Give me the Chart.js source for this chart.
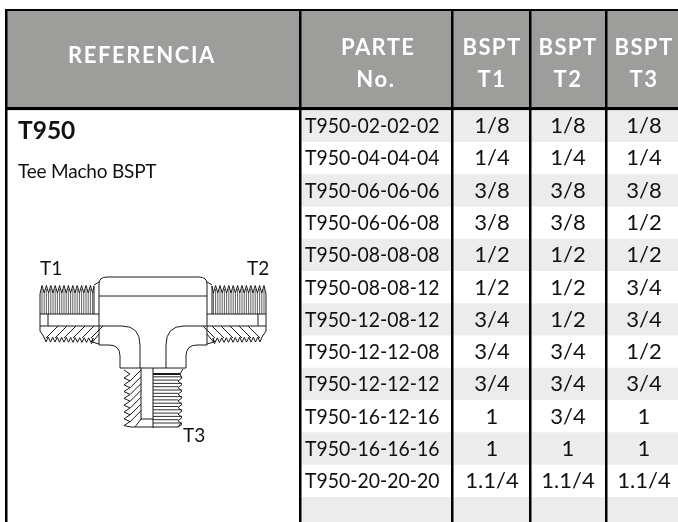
<!DOCTYPE html>
<html>
<head>
<meta charset="utf-8">
<title>T950</title>
<script src="https://cdn.jsdelivr.net/npm/chart.js@4/dist/chart.umd.min.js"></script>
<style>
  body { margin: 0; background: #fff; }
  canvas { display: block; }
</style>
</head>
<body>
<canvas id="myChart" width="678" height="522"></canvas>
<script>
// Table data
const partNumbers = [
    "T950-02-02-02", "T950-04-04-04", "T950-06-06-06", "T950-06-06-08",
    "T950-08-08-08", "T950-08-08-12", "T950-12-08-12", "T950-12-12-08",
    "T950-12-12-12", "T950-16-12-16", "T950-16-16-16", "T950-20-20-20", ""
];
const sizesT1 = ["1/8", "1/4", "3/8", "3/8", "1/2", "1/2", "3/4", "3/4", "3/4", "1", "1", "1.1/4", ""];
const sizesT2 = ["1/8", "1/4", "3/8", "3/8", "1/2", "1/2", "1/2", "3/4", "3/4", "3/4", "1", "1.1/4", ""];
const sizesT3 = ["1/8", "1/4", "3/8", "1/2", "1/2", "3/4", "3/4", "1/2", "3/4", "1", "1", "1.1/4", ""];
const refHeader = "REFERENCIA";
const partHeader = ["PARTE", "No."];
const sizeHeaders = [["BSPT", "T1"], ["BSPT", "T2"], ["BSPT", "T3"]];
const productCode = "T950";
const productName = "Tee Macho BSPT";
const portLabels = ["T1", "T2", "T3"];

// Layout: the x scale runs in page pixels, the y scale in table rows
const columnEdges = [6, 300, 452, 530, 606];
const sizeCenters = [492, 568, 644];
const rowPx = 32.27;
const firstRowTop = 110;
const tableTop = 10;
const headerRows = (firstRowTop - tableTop) / rowPx;
const FONT = "Lato, sans-serif";
const INK = "#1a1a1a";

const rowIndex = partNumbers.map((p, i) => i + 0.5);

// Line drawing of the fitting
function strokePath(ctx, pts) {
    ctx.beginPath();
    pts.forEach((p, i) => (i ? ctx.lineTo(p[0], p[1]) : ctx.moveTo(p[0], p[1])));
    ctx.stroke();
}

function drawArm(ctx) {
    // threads on top
    const zig = [[40, 294]];
    for (let i = 0; i < 12; i++) {
        zig.push([42 + i * 4.4, 285.5]);
        zig.push([44.2 + i * 4.4, 293]);
    }
    zig.push([94, 286]);
    strokePath(ctx, zig);
    ctx.save();
    ctx.lineWidth = 0.7;
    for (let i = 0; i < 12; i++) {
        strokePath(ctx, [[44.2 + i * 4.4, 293], [44.2 + i * 4.4, 314]]);
        strokePath(ctx, [[42 + i * 4.4, 289], [42 + i * 4.4, 314]]);
    }
    ctx.restore();
    strokePath(ctx, [[94, 286], [94, 314]]);
    strokePath(ctx, [[94, 285], [99, 282]]);
    strokePath(ctx, [[40, 294], [40, 331], [44, 337]]);
    strokePath(ctx, [[40, 314], [99, 314]]);
    strokePath(ctx, [[40, 326], [99, 326]]);
    strokePath(ctx, [[48, 314], [48, 326]]);

    // lower wall with the cut thread and hatching
    const low = [[44, 337]];
    for (let i = 0; i < 11; i++) {
        low.push([46 + i * 4.5, 342 + i * 0.05]);
        low.push([48.2 + i * 4.5, 337 + i * 0.1]);
    }
    low.push([92, 342]);
    low.push([99, 344]);
    strokePath(ctx, low);
    for (let i = 0; i < 6; i++) {
        strokePath(ctx, [[46 + i * 9, 338], [58 + i * 9, 326]]);
    }
    strokePath(ctx, [[91, 344], [99, 334]]);
}

function drawStem(ctx) {
    strokePath(ctx, [[141, 368], [141, 420]]);
    strokePath(ctx, [[153, 368], [153, 428]]);
    strokePath(ctx, [[141, 419], [153, 419]]);
    strokePath(ctx, [[141, 419], [135, 427], [178, 427], [181, 423]]);

    // left side, cut thread
    const left = [[124, 370]];
    for (let i = 0; i < 8; i++) {
        left.push([130, 374 + i * 6.8]);
        left.push([124, 378 + i * 6.8]);
    }
    left.push([131, 427]);
    left.push([135, 427]);
    strokePath(ctx, left);
    for (let i = 0; i < 7; i++) {
        strokePath(ctx, [[130, 381 + i * 6.8], [141, 370 + i * 6.8]]);
    }

    // right side, threads seen from outside
    ctx.save();
    ctx.lineWidth = 0.9;
    for (let i = 0; i < 16; i++) {
        const y = 373.5 + i * 3.3;
        strokePath(ctx, [[153, y], [i % 2 ? 182 : 178, y]]);
    }
    ctx.restore();
    const right = [[183, 369], [180, 374]];
    for (let i = 0; i < 8; i++) {
        right.push([182, 378 + i * 6.6]);
        right.push([178, 381 + i * 6.6]);
    }
    strokePath(ctx, right);
    ctx.save();
    ctx.lineWidth = 2;
    strokePath(ctx, [[153, 374], [180, 374]]);
    ctx.restore();
}

function drawFitting(ctx) {
    ctx.save();
    ctx.strokeStyle = INK;
    ctx.lineWidth = 1;
    ctx.lineJoin = "round";

    // body
    ctx.beginPath();
    ctx.moveTo(99, 345);
    ctx.lineTo(99, 284);
    ctx.quadraticCurveTo(99, 277, 107, 277);
    ctx.lineTo(199, 277);
    ctx.quadraticCurveTo(207, 277, 207, 284);
    ctx.lineTo(207, 345);
    ctx.lineTo(197, 345);
    ctx.quadraticCurveTo(186, 345, 186, 356);
    ctx.lineTo(186, 368);
    ctx.lineTo(120, 368);
    ctx.lineTo(120, 356);
    ctx.quadraticCurveTo(120, 345, 109, 345);
    ctx.closePath();
    ctx.stroke();

    strokePath(ctx, [[99, 296], [207, 296]]);

    // inside of the tee
    ctx.beginPath();
    ctx.moveTo(99, 326);
    ctx.lineTo(122, 326);
    ctx.quadraticCurveTo(140, 326, 140, 345);
    ctx.lineTo(140, 368);
    ctx.moveTo(207, 326);
    ctx.lineTo(184, 326);
    ctx.quadraticCurveTo(166, 326, 166, 345);
    ctx.lineTo(166, 368);
    ctx.stroke();

    drawArm(ctx);
    ctx.save();
    ctx.translate(306, 0);
    ctx.scale(-1, 1);
    drawArm(ctx);
    ctx.restore();
    drawStem(ctx);
    ctx.restore();
}

// squeeze narrows the glyphs, Lato runs wider than the font of the picture
function putText(ctx, text, x, y, font, color, align, spacing, squeeze) {
    ctx.save();
    ctx.translate(x, y);
    ctx.scale(squeeze || 1, 1);
    ctx.font = font;
    ctx.fillStyle = color;
    ctx.textAlign = align;
    ctx.textBaseline = "middle";
    ctx.letterSpacing = spacing || "0px";
    ctx.fillText(text, 0, 0);
    ctx.restore();
}

// Cell texts, placed through the chart scales
const tableText = {
    id: "tableText",
    afterDatasetsDraw(chart) {
        const ctx = chart.ctx;
        const xs = chart.scales.x;
        const ys = chart.scales.y;
        const px = (v) => xs.getPixelForValue(v);
        const py = (v) => ys.getPixelForValue(v);

        ctx.save();
        const headFont = "bold 22px " + FONT;
        putText(ctx, refHeader, px(142), py(-1.68), headFont, "#fff", "center", "1.6px");
        putText(ctx, partHeader[0], px(341), py(-1.93), headFont, "#fff", "left", "1.4px");
        putText(ctx, partHeader[1], px(376), py(-0.93), headFont, "#fff", "center", "1.6px");
        sizeHeaders.forEach((lines, c) => {
            putText(ctx, lines[0], px(sizeCenters[c]), py(-1.93), headFont, "#fff", "center", "1.4px");
            putText(ctx, lines[1], px(sizeCenters[c]), py(-0.93), headFont, "#fff", "center", "1.4px");
        });

        const cellFont = "22px " + FONT;
        partNumbers.forEach((part, i) => {
            const y = py(rowIndex[i]);
            putText(ctx, part, px(305), y, cellFont, "#111", "left", "0px", 0.883);
            putText(ctx, sizesT1[i], px(sizeCenters[0]), y, cellFont, "#111", "center");
            putText(ctx, sizesT2[i], px(sizeCenters[1]), y, cellFont, "#111", "center");
            putText(ctx, sizesT3[i], px(sizeCenters[2]), y, cellFont, "#111", "center");
        });

        putText(ctx, productCode, px(18), py(0.65), "bold 24.5px " + FONT, "#111", "left");
        putText(ctx, productName, px(18), py(1.92), "19px " + FONT, "#111", "left", "-0.2px");

        drawFitting(ctx);
        putText(ctx, portLabels[0], 40, 269, "19px " + FONT, "#111", "left");
        putText(ctx, portLabels[1], 247, 269, "19px " + FONT, "#111", "left");
        putText(ctx, portLabels[2], 183, 436, "19px " + FONT, "#111", "left");
        ctx.restore();
    }
};

const myChart = new Chart(document.getElementById("myChart").getContext("2d"), {
    type: "bar",
    data: {
        datasets: [
            {
                // header band
                data: [{ x: [6, 678], y: -headerRows / 2 }],
                backgroundColor: "#9d9d9c",
                barThickness: firstRowTop - tableTop,
                grouped: false,
            },
            {
                // alternating rows
                data: rowIndex.map((y) => ({ x: [300, 678], y: y })),
                backgroundColor: rowIndex.map((y, i) => (i % 2 ? "#ffffff" : "#ececec")),
                categoryPercentage: 1,
                barPercentage: 1,
                grouped: false,
            },
        ],
    },
    options: {
        indexAxis: "y",
        responsive: false,
        animation: false,
        layout: { padding: { top: 10, left: 5 } },
        plugins: { legend: { display: false }, tooltip: { enabled: false } },
        scales: {
            x: {
                type: "linear",
                min: 5,
                max: 678,
                border: { display: false },
                ticks: { display: false },
                afterBuildTicks: (axis) => { axis.ticks = columnEdges.map((v) => ({ value: v })); },
                grid: { color: "#000", lineWidth: 2.5, drawTicks: false, z: 1 },
            },
            y: {
                type: "linear",
                reverse: true,
                offset: false,
                min: -headerRows,
                max: (522 - firstRowTop) / rowPx,
                border: { display: false },
                ticks: { display: false },
                afterBuildTicks: (axis) => { axis.ticks = [-headerRows, -2 / rowPx].map((v) => ({ value: v })); },
                grid: { color: "#000", offset: false, lineWidth: (c) => (c.index ? 3 : 2), drawTicks: false, z: 1 },
            },
        },
    },
    plugins: [tableText],
});
</script>
</body>
</html>
